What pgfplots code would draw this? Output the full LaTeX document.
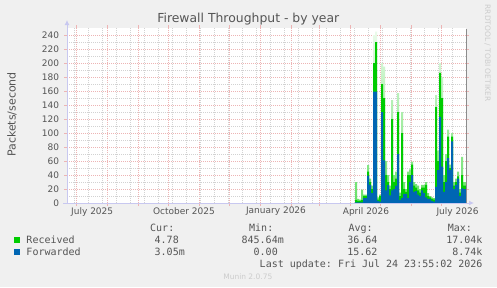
\documentclass[border=0pt]{standalone}
\usepackage{fontspec}
\setmainfont{DejaVu Sans}
\newfontfamily\monofont{DejaVu Sans Mono}
\usepackage{pgfplots}
\usepackage{pgfplotstable}
\pgfplotsset{compat=1.18}
\usetikzlibrary{arrows.meta}
\definecolor{bgc}{HTML}{F0F0F0}
\definecolor{rec}{HTML}{00CC00}
\definecolor{fwd}{HTML}{0066B3}
\definecolor{txt}{HTML}{555555}
\definecolor{majc}{HTML}{EDB4B4}
\definecolor{minc}{HTML}{D2D2D2}
\definecolor{axc}{HTML}{C8C8F0}
\definecolor{lightc}{HTML}{CCCCCC}
\frenchspacing

% x = days since 1 July 2025
\pgfplotstableread{
x b g gl
278.3 1 4 30
280.3 1 3 6
282.3 1 3 5
284.3 1 4 19
286.3 7 10 12
288.3 7 10 12
290.3 39 45 54
292.3 26 30 35
294.3 14 20 25
296.3 159 200 240
298.3 159 230 245
300.3 3 5 8
302.3 2 10 12
304.3 130 170 200
306.3 61 150 195
308.3 18 40 60
310.3 26 30 40
312.3 11 20 25
314.3 18 120 147
316.3 20 30 40
318.3 25 35 45
320.3 70 130 157
322.3 4 10 15
324.3 7 100 130
326.3 13 20 30
328.3 13 16 20
330.3 7 40 45
332.3 30 40 48
334.3 40 55 59
336.3 16 25 30
338.3 17 22 27
340.3 12 18 25
342.3 10 15 20
344.3 18 22 26
346.3 14 22 26
348.3 8 26 30
350.3 6 10 14
352.3 6 8 10
354.3 3 6 8
356.3 2 5 7
358.3 23 137 154
360.3 47 60 75
362.3 123 186 200
364.3 52 150 180
366.3 16 30 40
368.3 30 60 70
370.3 64 95 105
372.3 47 50 55
374.3 88 95 100
376.3 20 25 30
378.3 26 30 35
380.3 35 38 45
382.3 10 15 20
384.3 21 40 66
386.3 20 25 30
389.3 20 25 30
}\fw

\begin{document}
\begin{tikzpicture}[x=1bp,y=1bp]
\fill[bgc] (0,0) rectangle (497,-287);
\begin{axis}[
  at={(67bp,-203bp)}, anchor=south west,
  scale only axis, width=399bp, height=175bp,
  xmin=-9.7, xmax=389.3, ymin=0, ymax=250,
  axis background/.style={fill=white},
  axis line style={draw=none},
  ytick={0,20,...,240}, minor ytick={10,30,...,230},
  xtick={0,31,62,92,123,153,184,215,243,274,304,335,365}, xticklabels={},
  minor xtick={-2.3,11.7,...,376},
  extra x ticks={15.5,107.3,199.3,289.3,380.8},
  extra x tick labels={July 2025,October 2025,January 2026,April 2026,July 2026},
  extra x tick style={grid=none, major tick length=0pt},
  grid=both,
  major grid style={draw=majc, line width=0.8bp, dash pattern=on 1bp off 1bp},
  minor grid style={draw=minc, line width=0.8bp, dash pattern=on 1bp off 1bp},
  tick align=outside, major tick length=3bp, minor tick length=0pt,
  major tick style={draw=majc, line width=0.8bp},
  tick label style={font=\fontsize{9bp}{10bp}\selectfont, text=txt},
  /pgf/number format/assume math mode=true,
  xticklabel style={inner sep=0pt, yshift=-4bp},
  yticklabel style={inner sep=0pt, xshift=-4.7bp},
]
\addplot[const plot, draw=none, shade, top color=rec!8, bottom color=rec!60] table[x=x,y=gl]{\fw} \closedcycle;
\addplot[const plot, draw=none, fill=rec] table[x=x,y=g]{\fw} \closedcycle;
\addplot[const plot, draw=none, fill=fwd] table[x=x,y=b]{\fw} \closedcycle;
\end{axis}
\draw[axc, line width=1bp, -{Latex[length=5bp,width=5bp]}] (67,-203) -- (67,-20);
\draw[axc, line width=1bp, -{Latex[length=5bp,width=5bp]}] (63,-203) -- (474,-203);
\draw[black!45, line width=1bp] (466,-29) -- (466,-202.5);

\node[anchor=base, font=\fontsize{12.4bp}{14bp}\selectfont, text=txt, inner sep=0] at (248.3,-22.5) {Firewall Throughput - by year};
\node[anchor=base, rotate=90, font=\fontsize{11bp}{13bp}\selectfont, text=txt, inner sep=0] at (15.5,-114.5) {Packets/second};
\node[anchor=center, rotate=-90, font=\fontsize{7.5bp}{9bp}\selectfont, text=lightc, inner sep=0] at (487.5,-53) {RRDTOOL / TOBI OETIKER};

\fill[rec] (14,-237.3) rectangle (20,-243.3);
\fill[fwd] (14,-249.3) rectangle (20,-255.3);
\begin{scope}[every node/.style={font=\monofont\fontsize{10bp}{12bp}\selectfont, text=txt, inner sep=0}]
\node[anchor=base west] at (26.3,-243.3) {Received};
\node[anchor=base west] at (26.3,-255.3) {Forwarded};
\node[anchor=base west] at (150,-231) {Cur:};
\node[anchor=base west] at (249,-231) {Min:};
\node[anchor=base west] at (348.3,-231) {Avg:};
\node[anchor=base west] at (447.7,-231) {Max:};
\node[anchor=base east] at (185,-243.3) {4.78\phantom{m}};
\node[anchor=base east] at (284,-243.3) {845.64m};
\node[anchor=base east] at (383.7,-243.3) {36.64\phantom{m}};
\node[anchor=base east] at (482.7,-243.3) {17.04k};
\node[anchor=base east] at (185,-255.3) {3.05m};
\node[anchor=base east] at (284,-255.3) {0.00\phantom{m}};
\node[anchor=base east] at (383.7,-255.3) {15.62\phantom{m}};
\node[anchor=base east] at (482.7,-255.3) {8.74k};
\node[anchor=base east] at (482.7,-267) {Last update: Fri Jul 24 23:55:02 2026};
\end{scope}
\node[anchor=base, font=\fontsize{7.5bp}{9bp}\selectfont, text=lightc, inner sep=0] at (247.8,-279) {Munin 2.0.75};
\end{tikzpicture}
\end{document}
